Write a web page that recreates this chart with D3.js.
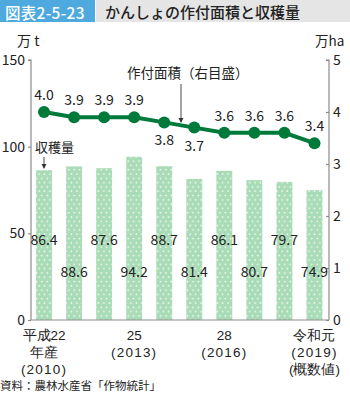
<!DOCTYPE html>
<html>
<head>
<meta charset="utf-8">
<script src="https://cdn.jsdelivr.net/npm/d3@7/dist/d3.min.js"></script>
<style>
  html, body { margin: 0; padding: 0; background: #fff; }
  svg { display: block; font-family: "Noto Sans CJK JP", "Noto Sans", sans-serif; }
</style>
</head>
<body>
<svg id="chart" width="350" height="393"></svg>
<script>
// かんしょ：収穫量（万t）と作付面積（万ha）
const years = ["2010", "2011", "2012", "2013", "2014", "2015", "2016", "2017", "2018", "2019"];
const harvest = [86.4, 88.6, 87.6, 94.2, 88.7, 81.4, 86.1, 80.7, 79.7, 74.9];
const plantedArea = [4.0, 3.9, 3.9, 3.9, 3.8, 3.7, 3.6, 3.6, 3.6, 3.4];
const leftTicks = [0, 50, 100, 150];
const rightTicks = [0, 1, 2, 3, 4, 5];
const xTickYears = ["2010", "2013", "2016", "2019"];
const xTickLines = [
  ["平成22", "年産", "(2010)"],
  ["25", "(2013)"],
  ["28", "(2016)"],
  ["令和元", "(2019)", "(概数値)"]
];
// 数値ラベルを線の下側に置く年
const areaLabelBelow = ["2014", "2015"];

const svg = d3.select("#chart");
const axisColor = "#8c8c8c";
const barColor = "#a8dbb6";
const lineColor = "#007a3a";

// タイトル帯
svg.append("rect").attr("x", 0).attr("y", 0).attr("width", 95).attr("height", 22).attr("fill", "#4da9de");
svg.append("rect").attr("x", 96).attr("y", 0).attr("width", 254).attr("height", 22).attr("fill", "#e5e5e5");
svg.append("text").attr("x", 5).attr("y", 18.5).attr("fill", "#fff")
  .attr("font-size", 15.5).attr("font-weight", 500).attr("letter-spacing", 0.3)
  .text("図表2-5-23");
svg.append("text").attr("x", 105).attr("y", 17.8).attr("fill", "#222")
  .attr("font-size", 15).attr("font-weight", 500)
  .text("かんしょの作付面積と収穫量");

// スケール
const x = d3.scaleBand().domain(years).range([29, 329.5]).paddingInner(0.47).paddingOuter(0.235);
const yLeft = d3.scaleLinear().domain([0, 150]).range([320, 60]);
const yRight = d3.scaleLinear().domain([0, 5]).range([320, 60]);
const axisLeftX = 31;
const axisRightX = 329;

// 水玉模様
const defs = svg.append("defs");
const pat = defs.append("pattern").attr("id", "dots").attr("patternUnits", "userSpaceOnUse")
  .attr("width", 5.4).attr("height", 8.6);
pat.append("rect").attr("width", 5.4).attr("height", 8.6).attr("fill", barColor);
pat.append("circle").attr("cx", 1.3).attr("cy", 2).attr("r", 0.85).attr("fill", "#fff");
pat.append("circle").attr("cx", 4.0).attr("cy", 6.3).attr("r", 0.85).attr("fill", "#fff");

// 棒（収穫量）
svg.append("g").selectAll("rect").data(harvest).join("rect")
  .attr("x", (d, i) => x(years[i]))
  .attr("width", x.bandwidth())
  .attr("y", d => yLeft(d))
  .attr("height", d => yLeft(0) - yLeft(d))
  .attr("fill", "url(#dots)");

// 左軸
const gL = svg.append("g").attr("transform", `translate(${axisLeftX},0)`)
  .call(d3.axisLeft(yLeft).tickValues(leftTicks).tickSize(3).tickPadding(3));
// 右軸
const gR = svg.append("g").attr("transform", `translate(${axisRightX},0)`)
  .call(d3.axisRight(yRight).tickValues(rightTicks).tickFormat(d3.format("d"))
    .tickSize(-3).tickPadding(4));
[gL, gR].forEach(g => {
  g.select(".domain").attr("stroke", axisColor).attr("stroke-width", 1.2);
  g.selectAll(".tick line").attr("stroke", axisColor).attr("stroke-width", 1.2);
  g.selectAll(".tick text").attr("fill", "#222").attr("font-size", 14)
    .attr("font-family", "\"Noto Sans CJK JP\", sans-serif");
});
gL.select(".domain").attr("d", `M-3,60H0V320`);
gR.select(".domain").attr("d", `M-3,60H0V320`);

// 横軸
svg.append("line").attr("x1", axisLeftX).attr("x2", axisRightX)
  .attr("y1", yLeft(0)).attr("y2", yLeft(0))
  .attr("stroke", axisColor).attr("stroke-width", 1.2);

const gX = svg.append("g").attr("transform", `translate(0,${yLeft(0)})`)
  .call(d3.axisBottom(x).tickValues(xTickYears).tickSize(0).tickFormat(""));
gX.select(".domain").remove();
gX.selectAll(".tick").each(function(d, i) {
  const t = d3.select(this).append("text").attr("fill", "#222").attr("font-size", 13.5)
    .attr("text-anchor", "middle");
  xTickLines[i].forEach((s, k) => {
    const ts = t.append("tspan").attr("x", 0).attr("y", 20 + k * 17.2).text(s);
    if (/^\(\d/.test(s)) ts.attr("letter-spacing", 1.2);
  });
});

// 棒の数値
svg.append("g").selectAll("text").data(harvest).join("text")
  .attr("x", (d, i) => x(years[i]) + x.bandwidth() / 2)
  .attr("y", (d, i) => i % 2 === 0 ? 245 : 277)
  .attr("text-anchor", "middle").attr("font-size", 14).attr("fill", "#222")
  .text(d => d.toFixed(1));

// 折れ線（作付面積）
const cx = i => x(years[i]) + x.bandwidth() / 2;
const line = d3.line().x((d, i) => cx(i)).y(d => yRight(d));
svg.append("path").datum(plantedArea).attr("d", line)
  .attr("fill", "none").attr("stroke", lineColor).attr("stroke-width", 4);
svg.append("g").selectAll("circle").data(plantedArea).join("circle")
  .attr("cx", (d, i) => cx(i)).attr("cy", d => yRight(d)).attr("r", 6)
  .attr("fill", lineColor);
svg.append("g").selectAll("text").data(plantedArea).join("text")
  .attr("x", (d, i) => cx(i))
  .attr("y", (d, i) => areaLabelBelow.includes(years[i]) ? yRight(d) + 23 : yRight(d) - 12)
  .attr("text-anchor", "middle").attr("font-size", 14).attr("fill", "#222")
  .text(d => d.toFixed(1));

// 単位
svg.append("text").attr("x", 17).attr("y", 46).attr("font-size", 14).attr("fill", "#222").text("万 t");
svg.append("text").attr("x", 315).attr("y", 46).attr("font-size", 13.5).attr("fill", "#222").text("万ha");

// 注記と矢印
defs.append("marker").attr("id", "arrow").attr("viewBox", "0 0 6 6")
  .attr("refX", 5).attr("refY", 3).attr("markerWidth", 6).attr("markerHeight", 6)
  .attr("orient", "auto")
  .append("path").attr("d", "M0,0L6,3L0,6Z").attr("fill", "#333");

svg.append("text").attr("x", 127).attr("y", 78).attr("font-size", 13.5).attr("fill", "#222")
  .text("作付面積（右目盛）");
svg.append("line").attr("x1", 181).attr("x2", 181).attr("y1", 84).attr("y2", 122)
  .attr("stroke", "#333").attr("stroke-width", 0.9).attr("marker-end", "url(#arrow)");

svg.append("text").attr("x", 35).attr("y", 152).attr("font-size", 13).attr("fill", "#222")
  .text("収穫量");
svg.append("line").attr("x1", 44).attr("x2", 44).attr("y1", 157).attr("y2", 168)
  .attr("stroke", "#333").attr("stroke-width", 0.9).attr("marker-end", "url(#arrow)");

// 出典
svg.append("text").attr("x", 0).attr("y", 390).attr("font-size", 11.5).attr("fill", "#222")
  .text("資料：農林水産省「作物統計」");
</script>
</body>
</html>
